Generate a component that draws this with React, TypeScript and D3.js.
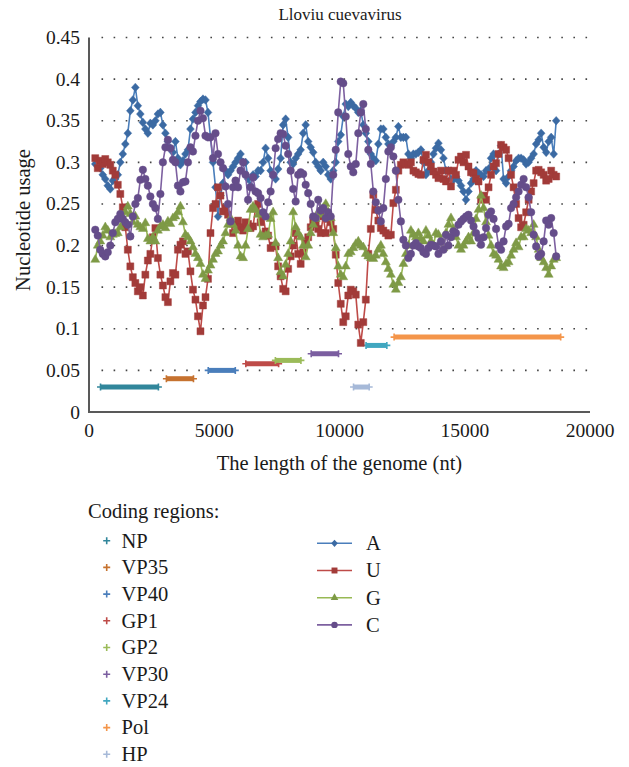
import React from "react";
import * as d3 from "d3";

// Sliding-window start position (nt) and step between successive windows
const START_NT = 250;
const STEP_NT = 100;

const A_VALUES = [
  0.298, 0.3, 0.293, 0.285, 0.28, 0.272, 0.268, 0.278, 0.28, 0.285,
  0.3, 0.31, 0.322, 0.335, 0.362, 0.375, 0.39, 0.368, 0.358, 0.348,
  0.34, 0.335, 0.347, 0.345, 0.35, 0.358, 0.36, 0.345, 0.335, 0.325,
  0.317, 0.312, 0.325, 0.305, 0.297, 0.302, 0.31, 0.315, 0.34, 0.352,
  0.36, 0.368, 0.373, 0.376, 0.375, 0.36, 0.33, 0.3, 0.27, 0.235,
  0.26, 0.275, 0.29, 0.285, 0.29, 0.295, 0.3, 0.305, 0.31, 0.3,
  0.3, 0.28, 0.272, 0.285, 0.283, 0.29, 0.29, 0.3, 0.317, 0.305,
  0.29, 0.283, 0.28, 0.292, 0.305, 0.345, 0.352, 0.33, 0.3, 0.298,
  0.305, 0.31, 0.315, 0.335, 0.345, 0.325, 0.318, 0.312, 0.3, 0.295,
  0.29, 0.3, 0.295, 0.285, 0.28, 0.29, 0.3, 0.325, 0.333, 0.355,
  0.37, 0.367, 0.372, 0.368, 0.365, 0.36, 0.362, 0.345, 0.335, 0.325,
  0.31, 0.305, 0.302, 0.322, 0.34, 0.34, 0.33, 0.322, 0.32, 0.325,
  0.33, 0.343, 0.33, 0.33, 0.33, 0.31, 0.305, 0.31, 0.31, 0.312,
  0.315, 0.3, 0.285, 0.29, 0.3, 0.31, 0.317, 0.323, 0.315, 0.305,
  0.29, 0.29, 0.28, 0.279, 0.283, 0.278, 0.272, 0.265, 0.255, 0.265,
  0.275, 0.28, 0.29, 0.287, 0.285, 0.283, 0.29, 0.292, 0.305, 0.31,
  0.29, 0.31, 0.32, 0.28, 0.275, 0.283, 0.29, 0.295, 0.302, 0.305,
  0.305, 0.303, 0.298, 0.3, 0.305, 0.31, 0.322, 0.327, 0.335, 0.318,
  0.312, 0.325, 0.33, 0.31, 0.35,
];

const U_VALUES = [
  0.305, 0.293, 0.302, 0.298, 0.304, 0.3, 0.297, 0.29, 0.285, 0.273,
  0.262, 0.246, 0.222, 0.195, 0.175, 0.162, 0.155, 0.145, 0.15, 0.14,
  0.165, 0.182, 0.19, 0.21, 0.221, 0.185, 0.165, 0.152, 0.138, 0.132,
  0.157, 0.167, 0.165, 0.195, 0.201, 0.205, 0.19, 0.193, 0.169, 0.147,
  0.135, 0.115, 0.097, 0.128, 0.138, 0.16, 0.215, 0.245, 0.25, 0.27,
  0.26, 0.241, 0.245, 0.237, 0.228, 0.215, 0.225, 0.23, 0.222, 0.218,
  0.228, 0.226, 0.221, 0.223, 0.245, 0.25, 0.228, 0.237, 0.217, 0.212,
  0.197, 0.2, 0.199, 0.175, 0.163, 0.148, 0.145, 0.172, 0.187, 0.2,
  0.215, 0.19, 0.178, 0.192, 0.205, 0.21, 0.222, 0.23, 0.226, 0.22,
  0.215, 0.235, 0.215, 0.232, 0.228, 0.22, 0.189, 0.155, 0.13, 0.108,
  0.115, 0.14, 0.147, 0.145, 0.141, 0.105, 0.083, 0.108, 0.135, 0.19,
  0.22, 0.261, 0.243, 0.23, 0.221, 0.218, 0.215, 0.212, 0.213, 0.251,
  0.267, 0.29, 0.297, 0.3, 0.298, 0.297, 0.3, 0.29, 0.288, 0.286,
  0.285, 0.303, 0.309, 0.3, 0.295, 0.289, 0.285, 0.281, 0.29, 0.28,
  0.277, 0.29, 0.271, 0.29, 0.285, 0.303, 0.307, 0.3, 0.309, 0.295,
  0.288, 0.287, 0.28, 0.277, 0.255, 0.26, 0.255, 0.27, 0.285, 0.295,
  0.299, 0.31, 0.321, 0.318, 0.315, 0.305, 0.285, 0.27, 0.25, 0.233,
  0.222, 0.225, 0.24, 0.255, 0.265, 0.275, 0.29, 0.291, 0.288, 0.285,
  0.278, 0.28, 0.29, 0.285, 0.283,
];

const G_VALUES = [
  0.183, 0.2, 0.205, 0.212, 0.222, 0.218, 0.21, 0.213, 0.214, 0.215,
  0.222, 0.232, 0.24, 0.247, 0.238, 0.228, 0.235, 0.225, 0.222, 0.22,
  0.227, 0.208, 0.205, 0.21, 0.205, 0.218, 0.223, 0.225, 0.221, 0.229,
  0.226, 0.233, 0.235, 0.24, 0.247, 0.228, 0.213, 0.21, 0.205, 0.198,
  0.19, 0.185, 0.178, 0.165, 0.16, 0.17, 0.176, 0.183, 0.19, 0.193,
  0.2, 0.205, 0.215, 0.225, 0.233, 0.225, 0.218, 0.2, 0.187, 0.185,
  0.2, 0.22, 0.243, 0.247, 0.243, 0.237, 0.213, 0.21, 0.212, 0.213,
  0.232, 0.24, 0.203, 0.185, 0.168, 0.163, 0.177, 0.19, 0.205, 0.24,
  0.222, 0.215, 0.21, 0.2, 0.186, 0.2, 0.215, 0.225, 0.232, 0.24,
  0.237, 0.245, 0.25, 0.24, 0.233, 0.215, 0.197, 0.175, 0.165, 0.162,
  0.175, 0.19, 0.192, 0.197, 0.202, 0.205, 0.2, 0.198, 0.19, 0.187,
  0.185, 0.184, 0.188, 0.195, 0.2, 0.19, 0.18, 0.172, 0.165, 0.153,
  0.147, 0.155, 0.162, 0.178, 0.19, 0.2, 0.218, 0.213, 0.21, 0.215,
  0.208, 0.205, 0.218, 0.212, 0.205, 0.2, 0.215, 0.213, 0.205, 0.197,
  0.215, 0.225, 0.233, 0.22, 0.21, 0.2, 0.195, 0.2, 0.205, 0.21,
  0.205, 0.215, 0.232, 0.243, 0.26, 0.245, 0.228, 0.212, 0.2, 0.19,
  0.188, 0.183, 0.175, 0.173, 0.178, 0.18, 0.188, 0.195, 0.203, 0.198,
  0.21, 0.21, 0.22, 0.218, 0.215, 0.225, 0.21, 0.195, 0.185, 0.18,
  0.173, 0.165, 0.175, 0.183, 0.185,
];

const C_VALUES = [
  0.219, 0.212, 0.195, 0.19, 0.187, 0.192, 0.2, 0.215, 0.228, 0.232,
  0.238, 0.232, 0.228, 0.225, 0.211, 0.235, 0.25, 0.257, 0.279, 0.291,
  0.28, 0.272, 0.259, 0.25, 0.245, 0.232, 0.262, 0.3, 0.318, 0.327,
  0.317, 0.303, 0.3, 0.272, 0.265, 0.276, 0.277, 0.3, 0.318, 0.313,
  0.332, 0.35, 0.362, 0.353, 0.332, 0.33, 0.33, 0.305, 0.335, 0.31,
  0.3, 0.293, 0.271, 0.25, 0.229, 0.27, 0.278, 0.27, 0.29, 0.3,
  0.285, 0.255, 0.27, 0.282, 0.265, 0.263, 0.257, 0.24, 0.235, 0.252,
  0.265, 0.285, 0.317, 0.328, 0.335, 0.334, 0.32, 0.31, 0.29, 0.268,
  0.253, 0.285, 0.288, 0.286, 0.273, 0.263, 0.25, 0.235, 0.233, 0.255,
  0.242, 0.245, 0.233, 0.24, 0.235, 0.285, 0.315, 0.36, 0.397, 0.395,
  0.355, 0.31, 0.295, 0.288, 0.298, 0.335, 0.36, 0.37, 0.34, 0.315,
  0.298, 0.265, 0.252, 0.242, 0.229, 0.245, 0.28, 0.313, 0.318, 0.307,
  0.29, 0.255, 0.229, 0.207, 0.2, 0.185, 0.19, 0.2, 0.203, 0.199,
  0.197, 0.192, 0.19, 0.197, 0.201, 0.2, 0.199, 0.19, 0.205, 0.195,
  0.213, 0.2, 0.21, 0.217, 0.215, 0.225, 0.229, 0.232, 0.235, 0.237,
  0.23, 0.223, 0.215, 0.209, 0.201, 0.21, 0.221, 0.237, 0.241, 0.232,
  0.22, 0.2, 0.195, 0.205, 0.223, 0.226, 0.245, 0.25, 0.258, 0.265,
  0.273, 0.28, 0.27, 0.258, 0.24, 0.213, 0.199, 0.187, 0.19, 0.205,
  0.23, 0.225, 0.233, 0.215, 0.187,
];

const SERIES_NAMES = ["A", "U", "G", "C"];
const SERIES_LINE_COLORS = ["#4a7ebb", "#be4b48", "#98b954", "#7d60a0"];
const SERIES_MARKER_COLORS = ["#3b6aa3", "#a23b39", "#7e9a46", "#654d8a"];
const SERIES_SHAPES = ["diamond", "square", "triangle", "circle"];

const REGION_NAMES = ["NP", "VP35", "VP40", "GP1", "GP2", "VP30", "VP24", "Pol", "HP"];
const REGION_START = [460, 3090, 4760, 6260, 7440, 8870, 11060, 12180, 10560];
const REGION_END = [2770, 4170, 5840, 7570, 8460, 9960, 11890, 18830, 11185];
const REGION_LEVEL = [0.03, 0.04, 0.05, 0.058, 0.062, 0.07, 0.08, 0.09, 0.03];
const REGION_COLORS = ["#31869b", "#c6722f", "#4a7ebb", "#be4b48", "#9bbb59", "#7b5ea0", "#40a7c0", "#f4954a", "#a6b9d8"];

const Y_TICKS = [0, 0.05, 0.1, 0.15, 0.2, 0.25, 0.3, 0.35, 0.4, 0.45];
const Y_TICK_LABELS = ["0", "0.05", "0.1", "0.15", "0.2", "0.25", "0.3", "0.35", "0.4", "0.45"];
const X_TICKS = [0, 5000, 10000, 15000, 20000];

const FONT = "'Liberation Serif', 'Times New Roman', serif";

function markerPath(shape: string, s: number): string {
  if (shape === "diamond") return `M0,${-s * 1.1}L${s},0L0,${s * 1.1}L${-s},0Z`;
  if (shape === "square") return `M${-s * 0.9},${-s * 0.9}H${s * 0.9}V${s * 0.9}H${-s * 0.9}Z`;
  if (shape === "triangle") return d3.symbol(d3.symbolTriangle, s * s * 2.3)() as string;
  return d3.symbol(d3.symbolCircle, Math.PI * s * s * 0.95)() as string;
}

export default function App() {
  const x = d3.scaleLinear().domain([0, 20000]).range([89, 590]);
  const y = d3.scaleLinear().domain([0, 0.45]).range([412, 37.5]);

  const allValues = [A_VALUES, U_VALUES, G_VALUES, C_VALUES];
  const series = allValues.map((vals) =>
    vals.map((v, i) => ({ nt: START_NT + i * STEP_NT, v }))
  );
  const line = d3
    .line<{ nt: number; v: number }>()
    .x((d) => x(d.nt))
    .y((d) => y(d.v));

  const plus = "M-3.5,0H3.5M0,-3.5V3.5";

  return (
    <svg
      width={629}
      height={767}
      style={{ position: "absolute", left: 0, top: 0, background: "#fff" }}
      fontFamily={FONT}
    >
      <rect x={0} y={0} width={629} height={767} fill="#fff" />
      {/* title */}
      <text x={340} y={20} fontSize={17} textAnchor="middle" fill="#1a1a1a" fontFamily={FONT}>
        Lloviu cuevavirus
      </text>

      {/* dotted gridlines */}
      {Y_TICKS.filter((t) => t > 0).map((t) => (
        <line
          key={"g" + t}
          x1={x(0) + 12.5}
          x2={x(20000)}
          y1={y(t)}
          y2={y(t)}
          stroke="#444"
          strokeWidth={1.6}
          strokeDasharray="1.6 10.5"
        />
      ))}

      {/* axes */}
      <line x1={x(0)} x2={x(0)} y1={y(0.45)} y2={y(0) + 1} stroke="#595959" strokeWidth={2} />
      <line x1={x(0)} x2={x(20000)} y1={y(0)} y2={y(0)} stroke="#595959" strokeWidth={2} />

      {/* y tick labels */}
      {Y_TICKS.map((t, i) => (
        <text key={"yl" + t} x={80} y={y(t) + 6.5} fontSize={19.5} textAnchor="end" fill="#1a1a1a" fontFamily={FONT}>
          {Y_TICK_LABELS[i]}
        </text>
      ))}
      {/* x tick labels */}
      {X_TICKS.map((t) => (
        <text key={"xl" + t} x={x(t)} y={437} fontSize={19.5} textAnchor="middle" fill="#1a1a1a" fontFamily={FONT}>
          {t}
        </text>
      ))}

      {/* axis titles */}
      <text x={x(10000)} y={470} fontSize={20.5} textAnchor="middle" fill="#1a1a1a" fontFamily={FONT}>
        The length of the genome (nt)
      </text>
      <text
        transform={`translate(30,220) rotate(-90)`}
        fontSize={20.5}
        textAnchor="middle"
        fill="#1a1a1a"
        fontFamily={FONT}
      >
        Nucleotide usage
      </text>

      {/* coding regions */}
      {REGION_NAMES.map((n, i) => (
        <g key={"r" + n}>
          <line
            x1={x(REGION_START[i])}
            x2={x(REGION_END[i])}
            y1={y(REGION_LEVEL[i])}
            y2={y(REGION_LEVEL[i])}
            stroke={REGION_COLORS[i]}
            strokeWidth={5}
          />
          {[REGION_START[i], REGION_END[i]].map((p, j) => (
            <path
              key={j}
              d={plus}
              transform={`translate(${x(p)},${y(REGION_LEVEL[i])})`}
              stroke={REGION_COLORS[i]}
              strokeWidth={1.6}
              fill="none"
            />
          ))}
        </g>
      ))}

      {/* nucleotide series */}
      {series.map((pts, si) => (
        <g key={"s" + si}>
          <path d={line(pts) as string} fill="none" stroke={SERIES_LINE_COLORS[si]} strokeWidth={1.6} />
          {pts.map((p, k) => (
            <path
              key={k}
              d={markerPath(SERIES_SHAPES[si], 3.9)}
              transform={`translate(${x(p.nt)},${y(p.v)})`}
              fill={SERIES_MARKER_COLORS[si]}
              stroke={SERIES_MARKER_COLORS[si]}
              strokeOpacity={0.45}
              strokeWidth={1}
            />
          ))}
        </g>
      ))}

      {/* legend: coding regions */}
      <text x={88} y={518} fontSize={20.5} fill="#1a1a1a" fontFamily={FONT}>
        Coding regions:
      </text>
      {REGION_NAMES.map((n, i) => {
        const cy = 540.7 + i * 26.7;
        return (
          <g key={"lr" + n}>
            <path d={plus} transform={`translate(106.7,${cy})`} stroke={REGION_COLORS[i]} strokeWidth={1.6} fill="none" />
            <text x={121.5} y={cy + 6.8} fontSize={20.5} fill="#1a1a1a" fontFamily={FONT}>
              {n}
            </text>
          </g>
        );
      })}

      {/* legend: series */}
      {SERIES_NAMES.map((n, i) => {
        const cy = 543.3 + i * 27.2;
        return (
          <g key={"ls" + n}>
            <line x1={317} x2={352} y1={cy} y2={cy} stroke={SERIES_LINE_COLORS[i]} strokeWidth={1.6} />
            <path
              d={markerPath(SERIES_SHAPES[i], 3.3)}
              transform={`translate(334.5,${cy})`}
              fill={SERIES_MARKER_COLORS[i]}
            />
            <text x={366} y={cy + 6.8} fontSize={20.5} fill="#1a1a1a" fontFamily={FONT}>
              {n}
            </text>
          </g>
        );
      })}
    </svg>
  );
}
